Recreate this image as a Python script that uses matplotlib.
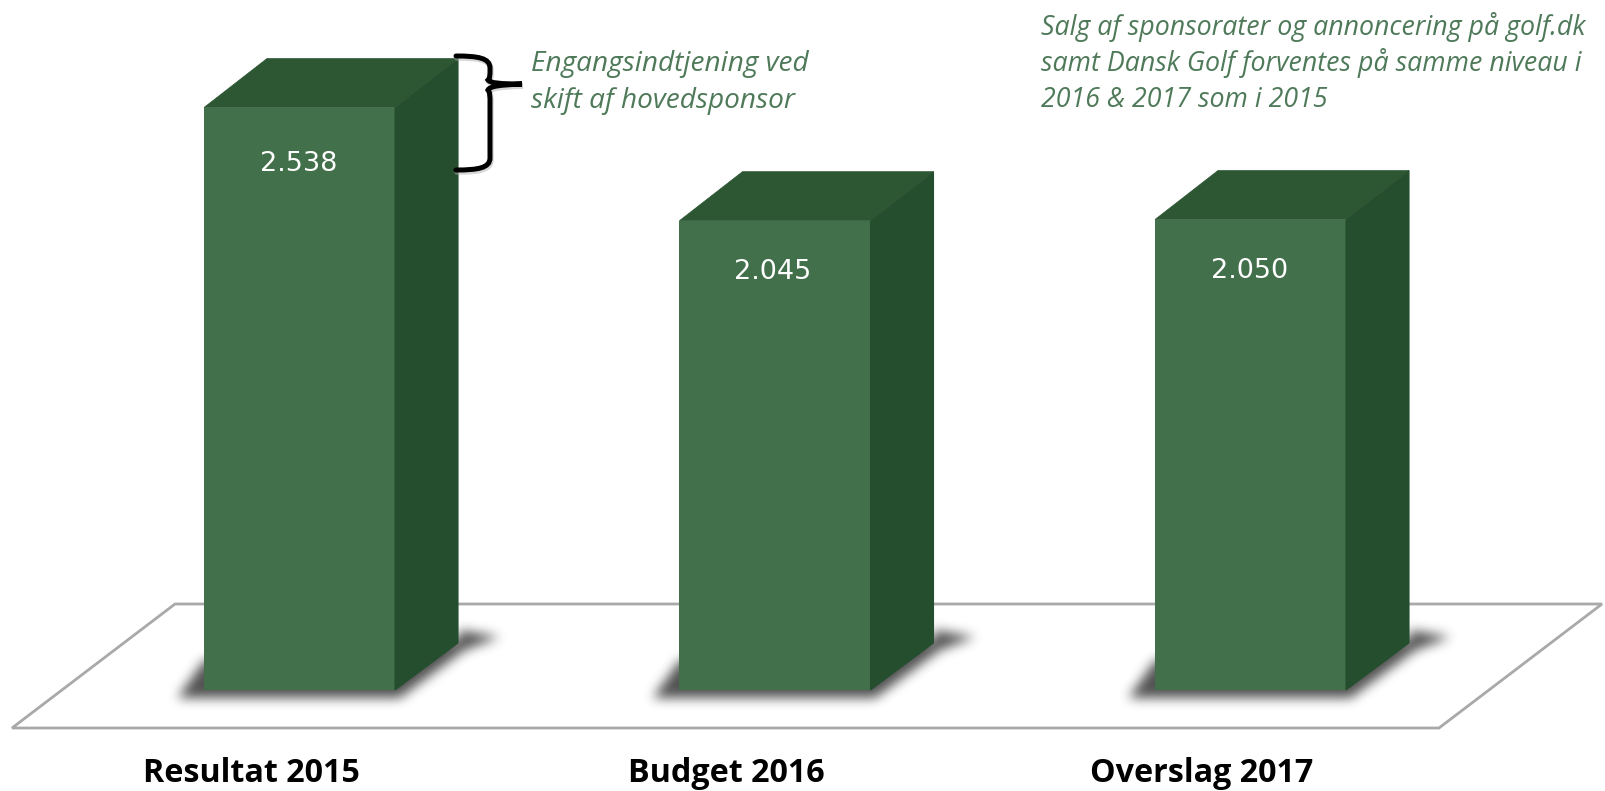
import matplotlib
matplotlib.use("Agg")
import matplotlib.pyplot as plt
from matplotlib.patches import Polygon, PathPatch
from matplotlib.path import Path
from matplotlib.transforms import Affine2D
import numpy as np

categories = ["Resultat 2015", "Budget 2016", "Overslag 2017"]
values = [2538, 2045, 2050]
value_labels = ["2.538", "2.045", "2.050"]
note_left = ["Engangsindtjening ved", "skift af hovedsponsor"]
note_right = ["Salg af sponsorater og annoncering på golf.dk",
              "samt Dansk Golf forventes på samme niveau i",
              "2016 & 2017 som i 2015"]

W, H = 1606, 791
FRONT, TOP, SIDE = "#41704A", "#2D5633", "#254E2F"
NOTE = "#4F7A5A"
k = 0.2295          # px per value unit
x0, step = 299.5, 475.5
base_px, ax_bottom_px = 690, 745
bar_w = 191 / step
dx, dy_base, dy_top = 63 / step, 47 / k, 49 / k

fig = plt.figure(figsize=(W / 100, H / 100), dpi=100, facecolor="white")
ax = fig.add_axes([0, (H - ax_bottom_px) / H, 1, ax_bottom_px / H])
xlim = (-x0 / step, (W - x0) / step)
ylim = (-(ax_bottom_px - base_px) / k, base_px / k)
for s in ax.spines.values():
    s.set_visible(False)
ax.set_yticks([])
px = Affine2D().scale(1, -1).translate(0, H)

# floor
ax.add_patch(Polygon([(12, 728), (175, 604), (1602, 604), (1439, 728)], closed=True,
                     fc="white", ec="#A9A9A9", lw=2.0, transform=px, zorder=1))

xs = np.arange(len(values))

# soft shadows: blurred mask of a flat shape under each box
gx, gy = np.meshgrid(np.arange(W) + 0.5, np.arange(ax_bottom_px) + 0.5)
grid = np.column_stack([gx.ravel(), gy.ravel()])
mask = np.zeros(gx.shape)
for xc in xs:
    c = x0 + xc * step
    pts = [(c - 122, 698), (c + 100, 698), (c + 165, 650), (c + 200, 637),
           (c + 159, 630), (c + 159, 640), (c - 95, 660)]
    mask[Path(pts).contains_points(grid).reshape(gx.shape)] = 1.0
kernel = np.ones(11) / 11
for _ in range(3):
    mask = np.apply_along_axis(lambda r: np.convolve(r, kernel, mode="same"), 1, mask)
    mask = np.apply_along_axis(lambda r: np.convolve(r, kernel, mode="same"), 0, mask)
rgba = np.zeros(mask.shape + (4,))
rgba[..., :3] = 0.2
rgba[..., 3] = mask * 0.85
ax.imshow(rgba, extent=(0, W, ax_bottom_px, 0), origin="upper", aspect="auto",
          transform=px, zorder=2, interpolation="nearest")
ax.set_xlim(xlim)
ax.set_ylim(ylim)

# bars
ax.bar(xs, values, width=bar_w, color=FRONT, zorder=3)
for x, v in zip(xs, values):
    r, l = x + bar_w / 2, x - bar_w / 2
    ax.add_patch(Polygon([(r, 0), (r + dx, dy_base), (r + dx, v + dy_top), (r, v)], closed=True,
                         fc=SIDE, ec=SIDE, lw=0.8, zorder=3))
    ax.add_patch(Polygon([(l, v), (l + dx, v + dy_top), (r + dx, v + dy_top), (r, v)], closed=True,
                         fc=TOP, ec=TOP, lw=0.5, zorder=3))

# value labels
label_px = [(299, 164), (773, 272), (1249.5, 271)]
for (lx, ly), t in zip(label_px, value_labels):
    ax.text(lx, ly, t, transform=px, color="white", fontsize=19.5, family="DejaVu Sans",
            ha="center", va="center", zorder=5)

# category labels
ax.set_xticks(xs - 0.102)
ax.set_xticklabels(categories, fontsize=23.2, family="Open Sans", fontweight="bold", color="black")
ax.tick_params(axis="x", length=0, pad=9)

# brace
V, C = Path.MOVETO, Path.CURVE4
verts = [(456, 56), (478, 56), (490, 58), (490, 68),
         (490, 76), (490, 78), (488, 80),
         (490, 83), (500, 84), (522, 84),
         (500, 85), (490, 86), (488, 90),
         (490, 92), (490, 96), (490, 104),
         (490, 104), (490, 150), (490, 158),
         (490, 168), (478, 170), (456, 170)]
codes = [V] + [C] * 21
ax.add_patch(PathPatch(Path(verts, codes), fc="none", ec="#B0B0B0", lw=4, alpha=0.5,
                       transform=Affine2D().translate(1, 2) + px, zorder=4, capstyle="round"))
ax.add_patch(PathPatch(Path(verts, codes), fc="none", ec="black", lw=3.6,
                       transform=px, zorder=5, capstyle="round"))

# notes
font = dict(family="Open Sans", style="italic", fontweight="normal", color=NOTE,
            ha="left", va="center", zorder=5, transform=px)
for y, t in zip([64, 101], note_left):
    ax.text(531, y, t, fontsize=20.2, **font)
for y, t in zip([27, 63, 100], note_right):
    ax.text(1041, y, t, fontsize=19.3, **font)

fig.savefig("out.png", dpi=100, facecolor="white")
